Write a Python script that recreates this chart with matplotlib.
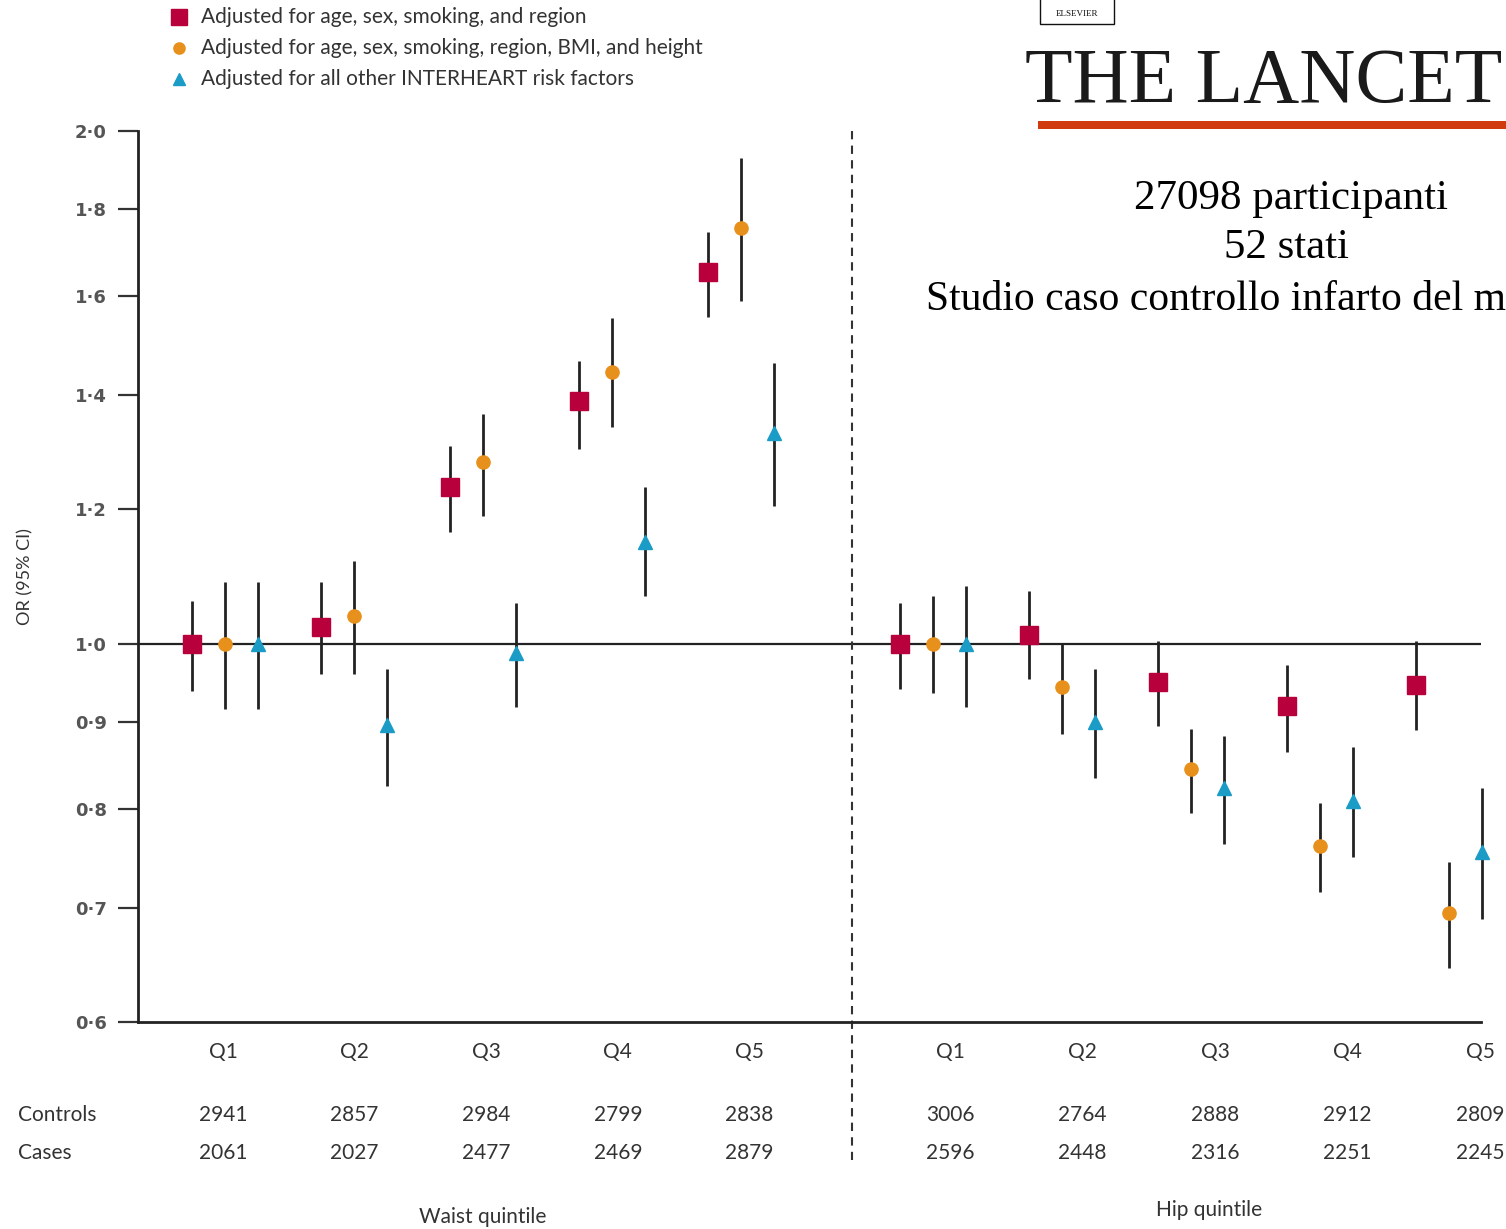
import numpy as np
import matplotlib
matplotlib.use('Agg')
import matplotlib.pyplot as plt
from matplotlib.transforms import blended_transform_factory
from matplotlib.patches import Rectangle
from matplotlib.lines import Line2D

SANS = ['Lato', 'DejaVu Sans']
SERIF = ['Liberation Serif', 'DejaVu Serif']
plt.rcParams['font.family'] = SANS

# ── data (odds ratio, lower CI, upper CI) ─────────
quintiles = ['Q1', 'Q2', 'Q3', 'Q4', 'Q5']
series_labels = ['Adjusted for age, sex, smoking, and region',
                 'Adjusted for age, sex, smoking, region, BMI, and height',
                 'Adjusted for all other INTERHEART risk factors']

waist_red = [1.000, 1.023, 1.237, 1.388, 1.652]
waist_red_lo = [0.938, 0.960, 1.164, 1.302, 1.555]
waist_red_hi = [1.060, 1.088, 1.306, 1.465, 1.746]
waist_orange = [1.000, 1.039, 1.278, 1.445, 1.755]
waist_orange_lo = [0.916, 0.960, 1.189, 1.340, 1.589]
waist_orange_hi = [1.088, 1.119, 1.365, 1.553, 1.928]
waist_blue = [1.000, 0.896, 0.988, 1.148, 1.329]
waist_blue_lo = [0.916, 0.825, 0.918, 1.067, 1.205]
waist_blue_hi = [1.088, 0.967, 1.057, 1.237, 1.461]

hip_red = [1.000, 1.012, 0.950, 0.920, 0.946]
hip_red_lo = [0.941, 0.954, 0.895, 0.864, 0.890]
hip_red_hi = [1.057, 1.074, 1.004, 0.972, 1.004]
hip_orange = [1.000, 0.943, 0.844, 0.761, 0.695]
hip_orange_lo = [0.936, 0.886, 0.796, 0.715, 0.645]
hip_orange_hi = [1.067, 1.000, 0.891, 0.807, 0.745]
hip_blue = [1.000, 0.900, 0.823, 0.809, 0.755]
hip_blue_lo = [0.918, 0.834, 0.763, 0.750, 0.690]
hip_blue_hi = [1.082, 0.967, 0.883, 0.870, 0.823]

waist_controls = [2941, 2857, 2984, 2799, 2838]
waist_cases = [2061, 2027, 2477, 2469, 2879]
hip_controls = [3006, 2764, 2888, 2912, 2809]
hip_cases = [2596, 2448, 2316, 2251, 2245]

yticks = [0.6, 0.7, 0.8, 0.9, 1.0, 1.2, 1.4, 1.6, 1.8, 2.0]

# ── styles ───────────────────────────────────────
RED, ORANGE, BLUE = '#B8003C', '#E8901C', '#1A9CC6'
TXT = '#333333'
styles = [(RED, 's', 13), (ORANGE, 'o', 9.5), (BLUE, '^', 10.5)]
OFF = 0.256
W, H = 1506, 1229

fig = plt.figure(figsize=(W / 100, H / 100), dpi=100)
ax = fig.add_axes([138 / W, 1 - 1022 / H, (1481 - 138) / W, (1022 - 131) / H])

waist_x = np.arange(5)
hip_x = np.arange(5) + 5.488
divider_x = 4.86
# table columns sit a little right of the point clusters
waist_lab_x = -0.015 + np.arange(5) * 1.02
hip_lab_x = 5.62 + np.arange(5) * 1.027

groups = [
    (waist_x, [(waist_red, waist_red_lo, waist_red_hi),
               (waist_orange, waist_orange_lo, waist_orange_hi),
               (waist_blue, waist_blue_lo, waist_blue_hi)]),
    (hip_x, [(hip_red, hip_red_lo, hip_red_hi),
             (hip_orange, hip_orange_lo, hip_orange_hi),
             (hip_blue, hip_blue_lo, hip_blue_hi)]),
]

ax.axhline(1.0, color='#222222', lw=1.6, zorder=1)
for xs, sers in groups:
    for k, (v, lo, hi) in enumerate(sers):
        col, mk, ms = styles[k]
        x = xs + (k - 1) * OFF
        ax.vlines(x, lo, hi, color='#222222', lw=2, zorder=2, clip_on=False)
        ax.plot(x, v, ls='none', marker=mk, ms=ms, color=col, mec=col,
                zorder=3, clip_on=False)

ax.set_yscale('log')
ax.set_ylim(0.6, 2.0)
ax.set_xlim(-0.674, 9.736)
ax.minorticks_off()
ax.set_yticks(yticks)
ax.set_yticklabels([f'{t:.1f}'.replace('.', '\u00b7') for t in yticks],
                   fontsize=13, color='#555555', fontweight='bold',
                   family=['DejaVu Sans'])
ax.tick_params(axis='y', length=14.5, width=1.6, color='#333333', pad=8)
ax.set_xticks([])
for s in ['top', 'right']:
    ax.spines[s].set_visible(False)
for s in ['left', 'bottom']:
    ax.spines[s].set_linewidth(2)
    ax.spines[s].set_color('#222222')

ax.text(-0.084, 0.5, 'OR (95% CI)', transform=ax.transAxes,
        rotation=90, ha='center', va='center', fontsize=13, color=TXT)

# dashed divider running into the table
ax.plot([divider_x, divider_x], [1.0, -0.155], ls=(0, (4, 3)), lw=1.5,
        color=TXT, clip_on=False,
        transform=blended_transform_factory(ax.transData, ax.transAxes))

# ── quintile labels and counts table ─────────────
tr = blended_transform_factory(ax.transData, fig.transFigure)
def fy(py):
    return 1 - py / H

for xs, ctrl, cases in [(waist_lab_x, waist_controls, waist_cases),
                        (hip_lab_x, hip_controls, hip_cases)]:
    for i, x in enumerate(xs):
        ax.text(x, fy(1052), quintiles[i], transform=tr, ha='center', va='center',
                fontsize=15, color=TXT)
        ax.text(x, fy(1115), str(ctrl[i]), transform=tr, ha='center', va='center',
                fontsize=15, color=TXT)
        ax.text(x, fy(1153), str(cases[i]), transform=tr, ha='center', va='center',
                fontsize=15, color=TXT)

fig.text(18 / W, fy(1115), 'Controls', ha='left', va='center', fontsize=15, color=TXT)
fig.text(18 / W, fy(1153), 'Cases', ha='left', va='center', fontsize=15, color=TXT)
ax.text(waist_x[2], fy(1217), 'Waist quintile', transform=tr, ha='center', va='center',
        fontsize=15, color=TXT)
ax.text(hip_x[2] + 0.14, fy(1210), 'Hip quintile', transform=tr, ha='center', va='center',
        fontsize=15, color=TXT)

# ── legend (top left) ────────────────────────────
for k, lab in enumerate(series_labels):
    py = 17 + 31 * k
    col, mk, ms = styles[k]
    fig.add_artist(Line2D([179 / W], [fy(py)], marker=mk, ms=ms * 0.85, color=col,
                          mec=col, ls='none'))
    fig.text(201 / W, fy(py), lab, ha='left', va='center', fontsize=15, color=TXT)

# ── journal banner and notes ─────────────────────
fig.text(1025 / W, fy(83), 'THE LANCET', ha='left', va='center', fontsize=56,
         family=SERIF, color='#1a1a1a')
fig.add_artist(Rectangle((1038 / W, fy(129)), (W - 1038) / W, 8 / H,
                         transform=fig.transFigure, color='#D03A0E', lw=0))
fig.add_artist(Rectangle((1040 / W, fy(24)), 74 / W, 26 / H, transform=fig.transFigure,
                         fill=False, ec='#111111', lw=1))
fig.text(1077 / W, fy(14), 'ELSEVIER', ha='center', va='center', fontsize=6.5,
         family=SERIF, color='#111111')

fig.text(1291 / W, fy(199), '27098 participanti', ha='center', va='center',
         fontsize=31, family=SERIF, color='black')
fig.text(1287 / W, fy(248), '52 stati', ha='center', va='center',
         fontsize=31, family=SERIF, color='black')
fig.text(926 / W, fy(300), 'Studio caso controllo infarto del m', ha='left',
         va='center', fontsize=30, family=SERIF, color='black')

fig.savefig('out.png', dpi=100)
